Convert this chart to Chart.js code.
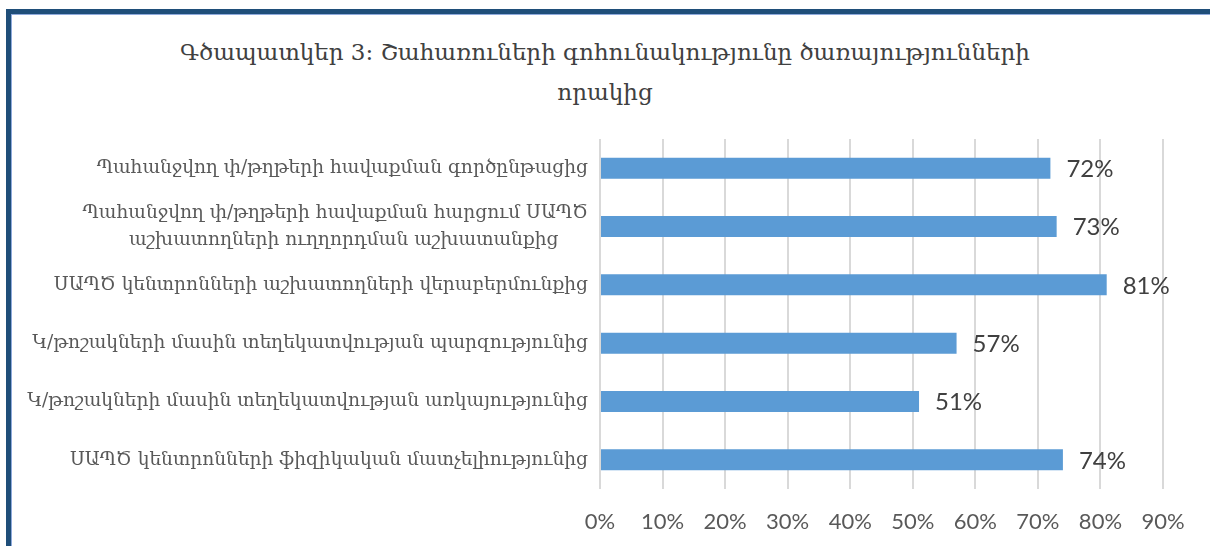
<!DOCTYPE html>
<html>
<head>
<meta charset="utf-8">
<script src="https://cdn.jsdelivr.net/npm/chart.js@4/dist/chart.umd.min.js"></script>
<style>
  html, body { margin: 0; padding: 0; background: #fff; }
  body { width: 1210px; height: 546px; overflow: hidden; position: relative; }
  .frame {
    position: absolute; left: 6px; top: 9px; right: -10px; bottom: -10px;
    border-top: 5px solid #1f4e79; border-left: 5px solid #1f4e79;
    box-shadow: inset 1px 1px 0 #8faadc;
  }
  #wrap { position: absolute; left: 0; top: 0; width: 1210px; height: 546px; }
  #title {
    position: absolute; left: 0; top: 32px; width: 1210px;
    text-align: center; color: #404040;
    font: 23px/40px "DejaVu Serif", serif;
  }
</style>
</head>
<body>
<div class="frame"></div>
<div id="title"></div>
<div id="wrap"><canvas id="chart"></canvas></div>
<script>
// chart data, top to bottom as in the picture
const titleLines = [
  'Գծապատկեր 3: Շահառուների գոհունակությունը ծառայությունների',
  'որակից'
];
const categories = [
  'Պահանջվող փ/թղթերի հավաքման գործընթացից',
  ['Պահանջվող փ/թղթերի հավաքման հարցում ՍԱՊԾ', 'աշխատողների ուղղորդման աշխատանքից\u00a0\u00a0\u00a0\u00a0\u00a0'],
  'ՍԱՊԾ կենտրոնների աշխատողների վերաբերմունքից',
  'Կ/թոշակների մասին տեղեկատվության պարզությունից',
  'Կ/թոշակների մասին տեղեկատվության առկայությունից',
  'ՍԱՊԾ կենտրոնների ֆիզիկական մատչելիությունից'
];
const satisfaction = [0.72, 0.73, 0.81, 0.57, 0.51, 0.74];
const axisMax = 0.9;
const axisStep = 0.1;

const pct = v => Math.round(v * 100) + '%';

// title sits centred on the frame, not on the plot
titleLines.forEach(line => {
  const d = document.createElement('div');
  d.textContent = line;
  document.getElementById('title').appendChild(d);
});

// draws the value next to the end of every bar
const valueLabels = {
  id: 'valueLabels',
  afterDatasetsDraw(chart) {
    const ctx = chart.ctx;
    const meta = chart.getDatasetMeta(0);
    ctx.save();
    ctx.font = '24px Lato, "Open Sans", sans-serif';
    ctx.fillStyle = '#404040';
    ctx.textAlign = 'left';
    ctx.textBaseline = 'middle';
    meta.data.forEach((bar, i) => {
      ctx.fillText(pct(chart.data.datasets[0].data[i]), bar.x + 16, bar.y + 1);
    });
    ctx.restore();
  }
};

new Chart(document.getElementById('chart'), {
  type: 'bar',
  data: {
    labels: categories,
    datasets: [{
      data: satisfaction,
      backgroundColor: '#5b9bd5',
      borderWidth: 0,
      categoryPercentage: 1,
      barPercentage: 0.36
    }]
  },
  plugins: [valueLabels],
  options: {
    indexAxis: 'y',
    responsive: true,
    maintainAspectRatio: false,
    animation: false,
    layout: { padding: { left: 14, right: 47, top: 139, bottom: 0 } },
    plugins: {
      legend: { display: false },
      tooltip: { enabled: false },
      title: { display: false }
    },
    scales: {
      x: {
        min: 0,
        max: axisMax,
        ticks: {
          stepSize: axisStep,
          callback: v => pct(v),
          color: '#595959',
          padding: 20,
          font: { family: 'Lato, "Open Sans", sans-serif', size: 22 }
        },
        grid: { color: '#d9d9d9', lineWidth: 2, drawTicks: false },
        border: { display: false },
        afterFit(scale) { scale.height = 57; }
      },
      y: {
        ticks: {
          color: '#595959',
          padding: 12,
          autoSkip: false,
          font: { family: '"DejaVu Serif", serif', size: 18.6, lineHeight: 1.45 }
        },
        grid: { display: false, drawTicks: false },
        border: { display: false },
        afterFit(scale) { scale.width = 586; }
      }
    }
  }
});
</script>
</body>
</html>
